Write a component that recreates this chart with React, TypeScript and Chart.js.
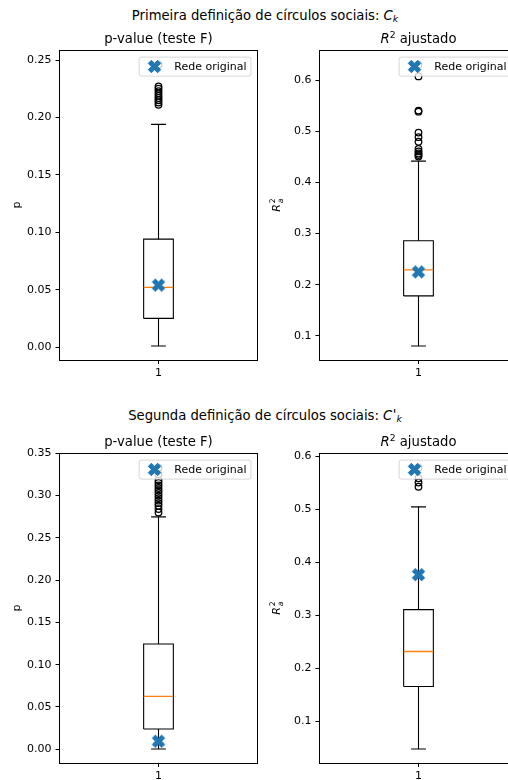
import React, { useEffect, useRef } from "react";
import { Chart, registerables } from "chart.js";

Chart.register(...registerables);

const FONT = "DejaVu Sans";
const BLUE = "#1f77b4";
const ORANGE = "#ff7f0e";

// ---------- data ----------
const CATEGORY = 1; // single boxplot position, x tick label "1"
const LEGEND_LABEL = "Rede original";

// Primeira definição — p-value (teste F)
// stats: low whisker, Q1, median, Q3, high whisker
const P1_STATS = [0.001, 0.025, 0.052, 0.094, 0.194];
const P1_FLIERS = [0.246, 0.227, 0.225, 0.223, 0.221, 0.219, 0.217, 0.215, 0.213, 0.211];
const P1_ORIGINAL = [0.054];
const P1_TICKS = [0, 0.05, 0.1, 0.15, 0.2, 0.25];

// Primeira definição — R² ajustado
const R1_STATS = [0.08, 0.178, 0.229, 0.286, 0.442];
const R1_FLIERS = [0.631, 0.608, 0.541, 0.539, 0.498, 0.489, 0.48, 0.466, 0.461, 0.457, 0.454, 0.451];
const R1_ORIGINAL = [0.225];
const R1_TICKS = [0.1, 0.2, 0.3, 0.4, 0.5, 0.6];

// Segunda definição — p-value (teste F)
const P2_STATS = [0.0004, 0.024, 0.0626, 0.1244, 0.2748];
const P2_FLIERS = [0.333, 0.325, 0.318, 0.315, 0.312, 0.309, 0.306, 0.303, 0.3, 0.297, 0.294, 0.291, 0.288, 0.284, 0.28];
const P2_ORIGINAL = [0.0095];
const P2_TICKS = [0, 0.05, 0.1, 0.15, 0.2, 0.25, 0.3, 0.35];

// Segunda definição — R² ajustado
const R2_STATS = [0.048, 0.166, 0.232, 0.311, 0.505];
const R2_FLIERS = [0.579, 0.559, 0.551, 0.543];
const R2_ORIGINAL = [0.377];
const R2_TICKS = [0.1, 0.2, 0.3, 0.4, 0.5, 0.6];

// ---------- layout ----------
const BOX_W = 0.15;
const YW = 59.5; // y-axis area width
const PW = 198; // plot width
const PH = 310; // plot height
const PAD_T = 10;
const XH = 25;
const CW = 268;
const CH = PAD_T + PH + XH;

type Panel = {
  key: string;
  stats: number[];
  fliers: number[];
  original: number[];
  ticks: number[];
  decimals: number;
  left: number; // canvas left
  top: number; // canvas top
};

const PANELS: Panel[] = [
  { key: "p1", stats: P1_STATS, fliers: P1_FLIERS, original: P1_ORIGINAL, ticks: P1_TICKS, decimals: 2, left: 0, top: 40 },
  { key: "r1", stats: R1_STATS, fliers: R1_FLIERS, original: R1_ORIGINAL, ticks: R1_TICKS, decimals: 1, left: 260, top: 40 },
  { key: "p2", stats: P2_STATS, fliers: P2_FLIERS, original: P2_ORIGINAL, ticks: P2_TICKS, decimals: 2, left: 0, top: 443 },
  { key: "r2", stats: R2_STATS, fliers: R2_FLIERS, original: R2_ORIGINAL, ticks: R2_TICKS, decimals: 1, left: 260, top: 443 },
];

function makeXMarker(size: number, color: string): HTMLCanvasElement {
  const dim = Math.ceil(size + 4);
  const c = document.createElement("canvas");
  c.width = dim;
  c.height = dim;
  const ctx = c.getContext("2d")!;
  const s = size / 4;
  const cx = dim / 2;
  const cy = dim / 2;
  const pts = [[-1, -2], [0, -1], [1, -2], [2, -1], [1, 0], [2, 1], [1, 2], [0, 1], [-1, 2], [-2, 1], [-1, 0], [-2, -1]];
  ctx.beginPath();
  pts.forEach(([px, py], i) => {
    if (i === 0) ctx.moveTo(cx + px * s, cy + py * s);
    else ctx.lineTo(cx + px * s, cy + py * s);
  });
  ctx.closePath();
  ctx.fillStyle = color;
  ctx.fill();
  ctx.strokeStyle = color;
  ctx.lineWidth = 1;
  ctx.stroke();
  return c;
}

function BoxPanel({ p }: { p: Panel }) {
  const ref = useRef<HTMLCanvasElement>(null);
  useEffect(() => {
    if (!ref.current) return;
    const xImg = makeXMarker(12.5, BLUE);
    const [lo, q1, med, q3, hi] = p.stats;
    const all = [lo, hi, ...p.fliers, ...p.original];
    const dmin = Math.min(...all);
    const dmax = Math.max(...all);
    const m = 0.05 * (dmax - dmin);
    const xl = CATEGORY - BOX_W / 2;
    const xr = CATEGORY + BOX_W / 2;
    const cl = CATEGORY - BOX_W / 4;
    const cr = CATEGORY + BOX_W / 4;
    const line = (data: { x: number; y: number }[], color: string, order: number, width = 1.1) => ({
      label: "",
      data,
      showLine: true,
      borderColor: color,
      backgroundColor: color,
      borderWidth: width,
      pointRadius: 0,
      pointHoverRadius: 0,
      fill: false,
      order,
    });

    const framePlugin = {
      id: "frame",
      afterDatasetsDraw(chart: any) {
        const { ctx, chartArea: a } = chart;
        ctx.save();
        ctx.strokeStyle = "#000";
        ctx.lineWidth = 1;
        const l = Math.floor(a.left) + 0.5;
        const t = Math.floor(a.top) + 0.5;
        const r = Math.floor(a.right) + 0.5;
        const b = Math.floor(a.bottom) + 0.5;
        ctx.strokeRect(l, t, r - l, b - t);
        ctx.restore();
      },
    };

    const legendPlugin = {
      id: "mplLegend",
      afterDraw(chart: any) {
        const { ctx, chartArea: a } = chart;
        const fs = 11;
        const label = chart.data.datasets[0].label;
        ctx.save();
        ctx.font = `${fs}px "${FONT}"`;
        const tw = ctx.measureText(label).width;
        const w = 0.4 * fs + 2 * fs + 0.8 * fs + tw + 0.4 * fs;
        const h = 19;
        const x = a.right - 6.5 - w;
        const y = a.top + 6.5;
        const r = 2.2;
        ctx.beginPath();
        ctx.moveTo(x + r, y);
        ctx.lineTo(x + w - r, y);
        ctx.arcTo(x + w, y, x + w, y + r, r);
        ctx.lineTo(x + w, y + h - r);
        ctx.arcTo(x + w, y + h, x + w - r, y + h, r);
        ctx.lineTo(x + r, y + h);
        ctx.arcTo(x, y + h, x, y + h - r, r);
        ctx.lineTo(x, y + r);
        ctx.arcTo(x, y, x + r, y, r);
        ctx.closePath();
        ctx.fillStyle = "rgba(255,255,255,0.8)";
        ctx.fill();
        ctx.strokeStyle = "rgba(204,204,204,0.8)";
        ctx.lineWidth = 1;
        ctx.stroke();
        const mx = x + 0.4 * fs + fs;
        const my = y + h / 2;
        ctx.drawImage(xImg, Math.round(mx - xImg.width / 2), Math.round(my - xImg.height / 2));
        ctx.fillStyle = "#000";
        ctx.textBaseline = "middle";
        ctx.textAlign = "left";
        ctx.fillText(label, x + 3.2 * fs, my + 0.5);
        ctx.restore();
      },
    };

    const chart = new Chart(ref.current, {
      type: "scatter",
      data: {
        datasets: [
          {
            label: LEGEND_LABEL,
            data: p.original.map((y) => ({ x: CATEGORY, y })),
            pointStyle: xImg as any,
            pointRadius: 7,
            pointHoverRadius: 7,
            backgroundColor: BLUE,
            borderColor: BLUE,
            order: 0,
          },
          {
            label: "fliers",
            data: p.fliers.map((y) => ({ x: CATEGORY, y })),
            pointStyle: "circle",
            pointRadius: 3.3,
            pointHoverRadius: 3.3,
            borderWidth: 1.25,
            borderColor: "#000",
            backgroundColor: "rgba(0,0,0,0)",
            order: 1,
          },
          line([{ x: xl, y: med }, { x: xr, y: med }], ORANGE, 2, 1.4),
          line([{ x: cl, y: hi }, { x: cr, y: hi }], "#000", 3),
          line([{ x: cl, y: lo }, { x: cr, y: lo }], "#000", 3),
          line([{ x: CATEGORY, y: q3 }, { x: CATEGORY, y: hi }], "#000", 4),
          line([{ x: CATEGORY, y: q1 }, { x: CATEGORY, y: lo }], "#000", 4),
          line(
            [
              { x: xl, y: q1 },
              { x: xr, y: q1 },
              { x: xr, y: q3 },
              { x: xl, y: q3 },
              { x: xl, y: q1 },
            ],
            "#000",
            5
          ),
        ] as any,
      },
      options: {
        animation: false,
        responsive: false,
        events: [],
        layout: { padding: { left: 0, top: PAD_T, right: CW - YW - PW, bottom: 0 } },
        plugins: { legend: { display: false }, tooltip: { enabled: false }, title: { display: false } },
        scales: {
          x: {
            type: "linear",
            min: CATEGORY - 0.5,
            max: CATEGORY + 0.5,
            border: { display: false },
            grid: { drawOnChartArea: false, drawTicks: true, tickLength: 4, color: "#000", tickColor: "#000", lineWidth: 1 },
            ticks: {
              color: "#000",
              font: { family: FONT, size: 11 },
              padding: 3,
              autoSkip: false,
              maxRotation: 0,
              callback: (v: any) => String(v),
            },
            afterBuildTicks: (s: any) => {
              s.ticks = [{ value: CATEGORY }];
            },
            afterFit: (s: any) => {
              s.height = XH;
            },
          },
          y: {
            type: "linear",
            min: dmin - m,
            max: dmax + m,
            border: { display: false },
            grid: { drawOnChartArea: false, drawTicks: true, tickLength: 4, color: "#000", tickColor: "#000", lineWidth: 1 },
            ticks: {
              color: "#000",
              font: { family: FONT, size: 11 },
              padding: 4,
              autoSkip: false,
              callback: (v: any) => Number(v).toFixed(p.decimals),
            },
            afterBuildTicks: (s: any) => {
              s.ticks = p.ticks.map((v) => ({ value: v }));
            },
            afterFit: (s: any) => {
              s.width = YW;
            },
          },
        },
      } as any,
      plugins: [framePlugin, legendPlugin],
    });
    return () => chart.destroy();
  }, [p]);

  return (
    <canvas
      ref={ref}
      width={CW}
      height={CH}
      style={{ position: "absolute", left: p.left, top: p.top, width: CW, height: CH, display: "block" }}
    />
  );
}

const titleStyle: React.CSSProperties = {
  position: "absolute",
  fontSize: 13.2,
  lineHeight: "16px",
  whiteSpace: "nowrap",
  textAlign: "center",
};

function YLabel({ x, y, children }: { x: number; y: number; children: React.ReactNode }) {
  return (
    <div style={{ position: "absolute", left: x, top: y, width: 0, height: 0 }}>
      <span
        style={{
          position: "absolute",
          left: 0,
          top: 0,
          whiteSpace: "nowrap",
          fontSize: 11,
          lineHeight: 1,
          transform: "translate(-50%, -50%) rotate(-90deg)",
        }}
      >
        {children}
      </span>
    </div>
  );
}

function R2a() {
  return (
    <span style={{ display: "inline-flex", alignItems: "center" }}>
      <span style={{ fontStyle: "italic" }}>R</span>
      <span style={{ display: "inline-flex", flexDirection: "column", fontSize: "0.7em", lineHeight: 1, marginLeft: 1 }}>
        <span>2</span>
        <span style={{ fontStyle: "italic" }}>a</span>
      </span>
    </span>
  );
}

const supStyle: React.CSSProperties = { fontSize: "0.7em", lineHeight: 0, verticalAlign: "0.5em" };
const subStyle: React.CSSProperties = { fontSize: "0.7em", lineHeight: 0, verticalAlign: "-0.25em", fontStyle: "italic" };
const primeStyle: React.CSSProperties = { lineHeight: 0, verticalAlign: "0.05em", fontStyle: "italic", marginLeft: 0.5 };

export default function App() {
  return (
    <div
      style={{
        position: "fixed",
        left: 0,
        top: 0,
        width: 508,
        height: 780,
        overflow: "hidden",
        background: "#fff",
        fontFamily: FONT,
        color: "#000",
      }}
    >
      {PANELS.map((p) => (
        <BoxPanel key={p.key} p={p} />
      ))}

      <div style={{ ...titleStyle, left: 0, width: 530, top: 8 }}>
        Primeira definição de círculos sociais: <i>C</i>
        <span style={subStyle}>k</span>
      </div>
      <div style={{ ...titleStyle, left: 0, width: 530, top: 408 }}>
        Segunda definição de círculos sociais: <i>C</i>
        <span style={primeStyle}>'</span>
        <span style={subStyle}>k</span>
      </div>

      <div style={{ ...titleStyle, left: YW, width: PW, top: 31 }}>p-value (teste F)</div>
      <div style={{ ...titleStyle, left: 260 + YW, width: PW, top: 31 }}>
        <i>R</i>
        <span style={supStyle}>2</span> ajustado
      </div>
      <div style={{ ...titleStyle, left: YW, width: PW, top: 434 }}>p-value (teste F)</div>
      <div style={{ ...titleStyle, left: 260 + YW, width: PW, top: 434 }}>
        <i>R</i>
        <span style={supStyle}>2</span> ajustado
      </div>

      <YLabel x={16} y={205}>p</YLabel>
      <YLabel x={16} y={608}>p</YLabel>
      <YLabel x={277} y={205}>
        <R2a />
      </YLabel>
      <YLabel x={277} y={608}>
        <R2a />
      </YLabel>
    </div>
  );
}
